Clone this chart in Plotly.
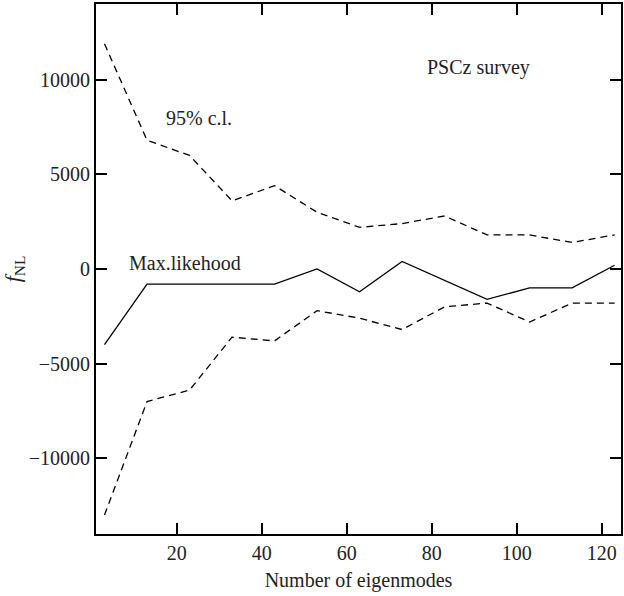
import plotly.graph_objects as go

modes = [3, 13, 23, 33, 43, 53, 63, 73, 83, 93, 103, 113, 123]
upper_cl = [11900, 6800, 6000, 3600, 4400, 3000, 2200, 2400, 2800, 1800, 1800, 1400, 1800]
max_like = [-4000, -800, -800, -800, -800, 0, -1200, 400, -600, -1600, -1000, -1000, 200]
lower_cl = [-13000, -7000, -6400, -3600, -3800, -2200, -2600, -3200, -2000, -1800, -2800, -1800, -1800]

x_range = [1, 124.5]
y_range = [-14000, 14000]
x_major, x_minor = 20, 5
y_major, y_minor = 5000, 1000

FONT = "Liberation Serif"
TXT = "#222"
fig = go.Figure()
fig.add_trace(go.Scatter(x=modes, y=upper_cl, mode="lines",
                         line=dict(color="black", width=1.3, dash="7px,5px"), showlegend=False))
fig.add_trace(go.Scatter(x=modes, y=lower_cl, mode="lines",
                         line=dict(color="black", width=1.3, dash="7px,5px"), showlegend=False))
fig.add_trace(go.Scatter(x=modes, y=max_like, mode="lines",
                         line=dict(color="black", width=1.3), showlegend=False))

fig.update_xaxes(range=x_range, dtick=x_major, tick0=0,
                 showgrid=False, zeroline=False, showline=True, linecolor="black", linewidth=2,
                 mirror="ticks", ticks="inside", ticklen=11, tickwidth=2, tickcolor="black",
                 tickfont=dict(family=FONT, size=20, color=TXT),
                 title=dict(text="Number of eigenmodes", font=dict(family=FONT, size=20, color=TXT), standoff=10))
fig.update_yaxes(range=y_range, dtick=y_major, tick0=0, tickformat="d",
                 showgrid=False, zeroline=False, showline=True, linecolor="black", linewidth=2,
                 mirror="ticks", ticks="inside", ticklen=11, tickwidth=2, tickcolor="black",
                 tickfont=dict(family=FONT, size=20, color=TXT),
                 title=dict(text="<i>f</i><sub>NL</sub>", font=dict(family=FONT, size=22, color=TXT), standoff=12))


def helper(rng, dt, length, side, overlay, anchor):
    return dict(range=rng, dtick=dt, tick0=0, overlaying=overlay, anchor=anchor, side=side,
                showgrid=False, zeroline=False, showline=False, showticklabels=False,
                mirror="ticks", ticks="inside", ticklen=length, tickwidth=2,
                tickcolor="black", fixedrange=True)


fig.update_layout(
    xaxis2=helper(x_range, x_major, 11, "top", "x", "y"),
    xaxis3=helper(x_range, x_minor, 5, "bottom", "x", "y"),
    xaxis4=helper(x_range, x_minor, 5, "top", "x", "y"),
    yaxis2=helper(y_range, y_major, 11, "right", "y", "x"),
    yaxis3=helper(y_range, y_minor, 5, "left", "y", "x"),
    yaxis4=helper(y_range, y_minor, 5, "right", "y", "x"),
)

ann_font = dict(family=FONT, size=20, color=TXT)
fig.add_annotation(x=91, y=10650, text="PSCz survey", showarrow=False, font=ann_font)
fig.add_annotation(x=25.3, y=8000, text="95% c.l.", showarrow=False, font=ann_font)
fig.add_annotation(x=22, y=320, text="Max.likehood", showarrow=False, font=ann_font)

fig.update_layout(width=624, height=596, margin=dict(l=95, r=1, t=4, b=62),
                  plot_bgcolor="white", paper_bgcolor="white")
fig.write_html("out.html")
